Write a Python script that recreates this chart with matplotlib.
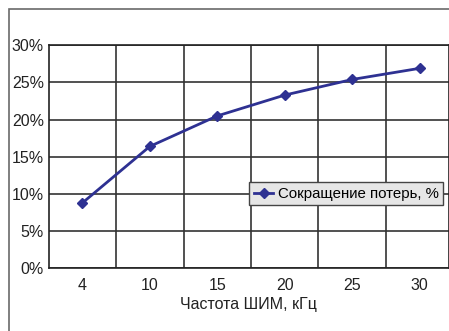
import matplotlib.pyplot as plt
from matplotlib.ticker import PercentFormatter, FixedLocator

freqs = ['4', '10', '15', '20', '25', '30']
losses = [8.8, 16.4, 20.5, 23.3, 25.4, 26.9]
series_name = 'Сокращение потерь, %'
x_title = 'Частота ШИМ, кГц'

plt.rcParams['font.family'] = ['Liberation Sans', 'DejaVu Sans']

fig = plt.figure(figsize=(4.49, 3.31), dpi=100)
W, H = 449, 331
ax = fig.add_axes([48.7 / W, 1 - 268.3 / H, 399.8 / W, 223 / H])

# outer chart frame (cut at right and bottom)
fig.patches.append(plt.Rectangle((9 / W, -0.1), 1.2, 1 - 8.5 / H + 0.1,
                                 transform=fig.transFigure, fill=False,
                                 edgecolor='#6a6a6a', linewidth=1.2))

x = list(range(len(freqs)))
ax.plot(x, losses, color='#2e3192', linewidth=2, marker='D', markersize=5.5,
        label=series_name)

ax.set_xlim(-0.5, 5.43)
ax.set_ylim(0, 30)
ax.set_xticks(x)
ax.set_xticklabels(freqs)
ax.xaxis.set_minor_locator(FixedLocator([i + 0.5 for i in range(len(freqs) - 1)]))
ax.set_yticks(range(0, 31, 5))
ax.yaxis.set_major_formatter(PercentFormatter(decimals=0))

ax.grid(True, axis='y', which='major', color='#333333', linewidth=1.2)
ax.grid(True, axis='x', which='minor', color='#333333', linewidth=1.2)
ax.set_axisbelow(True)
ax.tick_params(axis='both', which='both', length=0, labelsize=11.5, colors='#222222')
ax.tick_params(axis='x', pad=7)
ax.tick_params(axis='y', pad=3.5)
for s in ax.spines.values():
    s.set_color('#222222')
    s.set_linewidth(1.2)

ax.set_xlabel(x_title, fontsize=11.5, color='#222222', labelpad=3)

leg = ax.legend(loc='upper left', bbox_to_anchor=(0.502, 0.3857), borderaxespad=0,
                fancybox=False, framealpha=1, facecolor='#e6e6e6', edgecolor='#444444',
                fontsize=10.8, handlelength=1.3, handletextpad=0.3, borderpad=0.3)
leg.get_frame().set_linewidth(1.0)

fig.savefig('out.png', dpi=100)
